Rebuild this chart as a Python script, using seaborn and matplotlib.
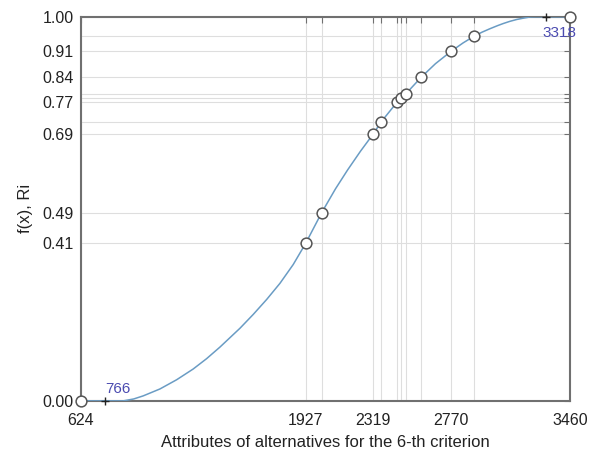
import numpy as np
import pandas as pd
import matplotlib.pyplot as plt
import seaborn as sns

# attribute values of the alternatives and their f(x) (Ri) values
attr_x = [624, 1927, 2020, 2319, 2366, 2456, 2482, 2507, 2598, 2770, 2902, 3460]
rank_y = [0.0, 0.41, 0.49, 0.695, 0.727, 0.777, 0.789, 0.799, 0.843, 0.91, 0.949, 1.0]

# curve
curve_x = [624, 766, 869, 930, 985, 1082, 1179, 1275, 1353, 1430, 1546, 1623, 1701, 1778, 1855,
           1927, 2020, 2100, 2170, 2245, 2319, 2366, 2456, 2482, 2507, 2598, 2680, 2770,
           2840, 2902, 2950, 2996, 3040, 3073, 3110, 3151, 3190, 3228, 3260, 3318, 3460]
curve_y = [0.0, 0.0, 0.0, 0.005, 0.013, 0.031, 0.055, 0.083, 0.11, 0.14, 0.189, 0.225, 0.264, 0.306, 0.355,
           0.41, 0.49, 0.552, 0.601, 0.65, 0.695, 0.727, 0.777, 0.789, 0.799, 0.843, 0.878, 0.91,
           0.932, 0.949, 0.96, 0.969, 0.977, 0.9825, 0.988, 0.993, 0.9965, 0.9995, 1.0, 1.0, 1.0]

bound_x = [766, 3318]
bound_y = [0.0, 1.0]
bound_txt = ['766', '3318']

x_tick_txt = ['624', '1927', '', '2319', '', '', '', '', '', '2770', '', '3460']
y_tick_txt = ['0.00', '0.41', '0.49', '0.69', '', '0.77', '', '', '0.84', '0.91', '', '1.00']

sns.set_style('white')
plt.rcParams['font.family'] = ['Liberation Sans', 'DejaVu Sans']

fig = plt.figure(figsize=(5.95, 4.54), dpi=100)
ax = fig.add_axes([0.136, 0.117, 0.822, 0.846])

curve = pd.DataFrame({'x': curve_x, 'y': curve_y})
pts = pd.DataFrame({'x': attr_x, 'y': rank_y})

sns.lineplot(data=curve, x='x', y='y', ax=ax, color='#6a9cc4', lw=1.1, sort=False, zorder=3)
sns.scatterplot(data=pts, x='x', y='y', ax=ax, s=60, facecolor='white', edgecolor='#555555',
                linewidth=1.1, zorder=5, clip_on=False)
ax.scatter(bound_x, bound_y, marker='+', s=30, color='#222222', linewidths=1.0, zorder=6, clip_on=False)

ax.text(bound_x[0] + 70, bound_y[0] + 0.013, bound_txt[0], color='#4b4bb0', fontsize=11,
        ha='center', va='bottom')
ax.text(bound_x[1] + 80, bound_y[1] - 0.025, bound_txt[1], color='#4b4bb0', fontsize=11,
        ha='center', va='top')

ax.set_xlim(624, 3460)
ax.set_ylim(0, 1)
ax.set_xticks(attr_x)
ax.set_xticklabels(x_tick_txt)
ax.set_yticks(rank_y)
ax.set_yticklabels(y_tick_txt)
ax.grid(True, color='#dedede', lw=0.8)
ax.tick_params(direction='in', top=True, right=True, length=4, width=0.8, color='#707070',
               labelsize=11.5, labelcolor='#222222')
ax.tick_params(axis='x', pad=9)
ax.tick_params(axis='y', pad=5)

for sp in ax.spines.values():
    sp.set_color('#707070')
    sp.set_linewidth(1.5)

ax.set_xlabel('Attributes of alternatives for the 6-th criterion', fontsize=12, color='#222222', labelpad=5)
ax.set_ylabel('f(x), Ri', fontsize=12, color='#222222', labelpad=7)

fig.savefig('out.png', dpi=100)
